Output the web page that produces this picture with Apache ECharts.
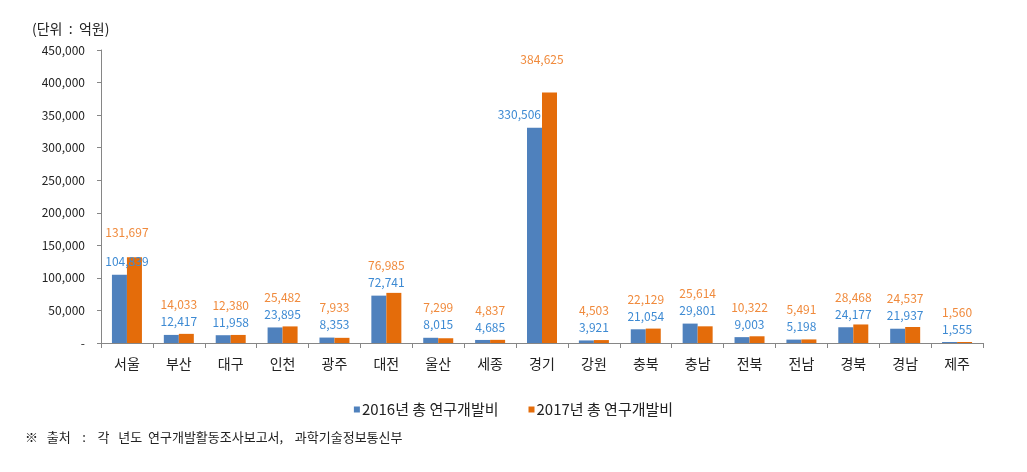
<!DOCTYPE html>
<html>
<head>
<meta charset="utf-8">
<script src="https://cdn.jsdelivr.net/npm/echarts@6/dist/echarts.min.js"></script>
<style>
  html, body { margin: 0; padding: 0; background: #fff; }
  #chart { width: 1027px; height: 472px; }
</style>
</head>
<body>
<div id="chart"></div>
<script>
const regions = ['서울', '부산', '대구', '인천', '광주', '대전', '울산', '세종', '경기', '강원', '충북', '충남', '전북', '전남', '경북', '경남', '제주'];
const rd2016 = [104839, 12417, 11958, 23895, 8353, 72741, 8015, 4685, 330506, 3921, 21054, 29801, 9003, 5198, 24177, 21937, 1555];
const rd2017 = [131697, 14033, 12380, 25482, 7933, 76985, 7299, 4837, 384625, 4503, 22129, 25614, 10322, 5491, 28468, 24537, 1560];
const yTicks = [0, 50000, 100000, 150000, 200000, 250000, 300000, 350000, 400000, 450000];

const FONT = '"Noto Sans CJK KR", "Noto Sans", sans-serif';
const BLUE = '#4f81bd';
const ORANGE = '#e46c0a';
const BLUE_TXT = '#3d8ad3';
const ORANGE_TXT = '#f08a3c';

const fmt = v => v.toLocaleString('en-US');

// value labels: 2016 above its bar, 2017 above its bar but kept clear of the 2016 label
const labelItem = (params, api) => {
  const i = api.value(0);
  const a = api.value(1);
  const b = api.value(2);
  const pa = api.coord([i, a]);
  const pb = api.coord([i, b]);
  const cx = pa[0];
  let ya = pa[1] - 13;
  let alignA = 'center';
  let xa = cx;
  let yb = Math.min(pb[1] - 12, ya - 17);
  if (pb[1] < ya - 10) {
    // 2017 bar far taller: 2016 label moves to the left of it
    alignA = 'right';
    xa = cx - 1;
    yb = pb[1] - 33;
  } else if (pb[1] < ya) {
    yb = pb[1] - 25;
  }
  return {
    type: 'group',
    children: [
      {type: 'text', style: {text: fmt(a), x: xa, y: ya, align: alignA, verticalAlign: 'middle', fill: BLUE_TXT, fontSize: 12, fontFamily: FONT}},
      {type: 'text', style: {text: fmt(b), x: cx, y: yb, align: 'center', verticalAlign: 'middle', fill: ORANGE_TXT, fontSize: 12, fontFamily: FONT}}
    ]
  };
};

const chart = echarts.init(document.getElementById('chart'));
chart.setOption({
  animation: false,
  textStyle: {fontFamily: FONT},
  title: {
    text: '(단위  :  억원)',
    left: 27,
    top: 17,
    textStyle: {fontSize: 14, fontWeight: 'normal', color: '#222', fontFamily: FONT}
  },
  legend: {
    top: 397,
    left: 'center',
    icon: 'rect',
    itemWidth: 6,
    itemHeight: 6,
    itemGap: 30,
    textStyle: {fontSize: 15, color: '#222', fontFamily: FONT, padding: [0, 0, 0, -3]},
    data: ['2016년 총 연구개발비', '2017년 총 연구개발비']
  },
  graphic: [{
    type: 'text',
    left: 25,
    top: 431,
    style: {text: '※   출처    :    각   년도  연구개발활동조사보고서,    과학기술정보통신부', fontSize: 13, fill: '#222', fontFamily: FONT}
  }],
  grid: {left: 101, right: 44, top: 50, bottom: 129},
  xAxis: {
    type: 'category',
    data: regions,
    axisLine: {lineStyle: {color: '#868686'}},
    axisTick: {show: true, length: 5, lineStyle: {color: '#868686'}},
    axisLabel: {fontSize: 14, color: '#222', margin: 14, fontFamily: FONT}
  },
  yAxis: {
    type: 'value',
    min: yTicks[0],
    max: yTicks[yTicks.length - 1],
    interval: yTicks[1] - yTicks[0],
    splitLine: {show: false},
    axisLine: {show: true, lineStyle: {color: '#868686'}},
    axisTick: {show: true, length: 4, lineStyle: {color: '#868686'}},
    axisLabel: {
      fontSize: 12,
      color: '#222',
      margin: 16,
      fontFamily: FONT,
      formatter: v => v === 0 ? '-' : fmt(v)
    }
  },
  series: [
    {
      name: '2016년 총 연구개발비',
      type: 'bar',
      data: rd2016,
      barWidth: 15,
      barGap: '0%',
      itemStyle: {color: BLUE}
    },
    {
      name: '2017년 총 연구개발비',
      type: 'bar',
      data: rd2017,
      barWidth: 15,
      barGap: '0%',
      itemStyle: {color: ORANGE}
    },
    {
      name: 'labels',
      type: 'custom',
      renderItem: labelItem,
      data: regions.map((r, i) => [i, rd2016[i], rd2017[i]]),
      encode: {x: 0, y: 1},
      silent: true,
      z: 5
    }
  ]
});
</script>
</body>
</html>
